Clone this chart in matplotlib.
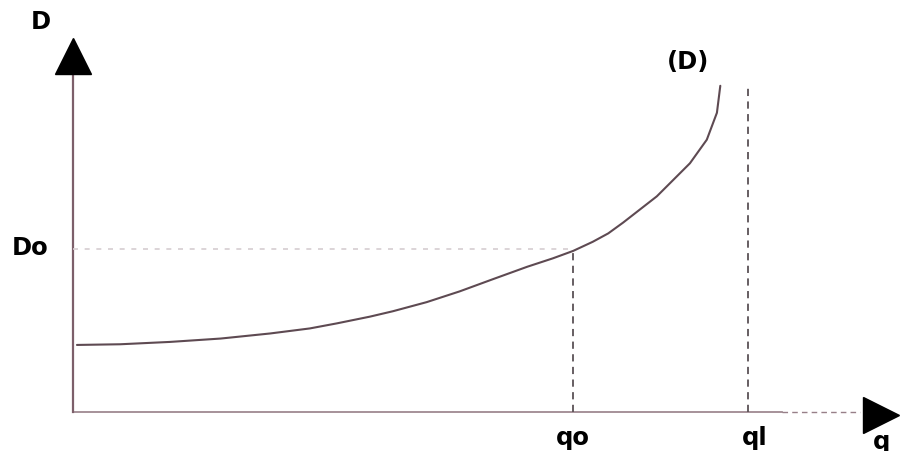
import matplotlib.pyplot as plt

# curve (D): points, q in units of ql, D in units of axis height
q_curve = [0.006, 0.070, 0.144, 0.219, 0.292, 0.351, 0.391, 0.440, 0.474, 0.524, 0.573, 0.622,
           0.673, 0.711, 0.741, 0.770, 0.793, 0.815, 0.865, 0.914, 0.939, 0.954, 0.959]
d_curve = [0.199, 0.201, 0.208, 0.218, 0.233, 0.248, 0.263, 0.283, 0.299, 0.326, 0.358, 0.394,
           0.431, 0.456, 0.478, 0.505, 0.530, 0.562, 0.640, 0.738, 0.808, 0.888, 0.968]

q_o = 0.741
q_l = 1.0
d_o = 0.484
ql_top = 0.973
x_axis_end = 1.166
y_axis_end = 1.0

line_col = "#7d5f6a"
curve_col = "#5e4a52"

fig = plt.figure(figsize=(9.05, 4.52), dpi=100)
ax = fig.add_axes([0, 0, 1, 1])
ax.set_xlim(-0.108, 1.2326)
ax.set_ylim(-0.1157, 1.2255)
ax.axis("off")

# axes
ax.plot([0, 0], [0, y_axis_end], color=line_col, lw=1.6)
ax.plot([0, 1.05], [0, 0], color=line_col, lw=1.2, alpha=0.8)
ax.plot([1.05, x_axis_end], [0, 0], color=line_col, lw=1.0, ls=(0, (4, 3)), alpha=0.8)
ax.plot([0], [1.055], marker="^", color="black", markersize=26, clip_on=False)
ax.plot([1.197], [-0.009], marker=">", color="black", markersize=26, clip_on=False)

# guide lines
ax.plot([0, q_o], [d_o, d_o], color="#d6cdd1", lw=1.2, ls=(0, (3, 4)))
ax.plot([q_o, q_o], [0, d_o - 0.01], color="#5a5256", lw=1.3, ls=(0, (4, 3)))
ax.plot([q_l, q_l], [0, ql_top], color="#5a5256", lw=1.3, ls=(0, (4, 3)))

# curve
ax.plot(q_curve, d_curve, color=curve_col, lw=1.5, solid_capstyle="round", solid_joinstyle="round")

fs = 17.5
kw = dict(fontsize=fs, fontweight="bold", ha="center", va="center")
ax.text(-0.047, 1.16, "D", **kw)
ax.text(-0.063, d_o + 0.005, "Do", **kw)
ax.text(q_o, -0.075, "qo", **kw)
ax.text(q_l + 0.01, -0.075, "ql", **kw)
ax.text(1.198, -0.085, "q", **kw)
ax.text(0.911, 1.041, "(D)", **kw)

fig.savefig("out.png", dpi=100)
